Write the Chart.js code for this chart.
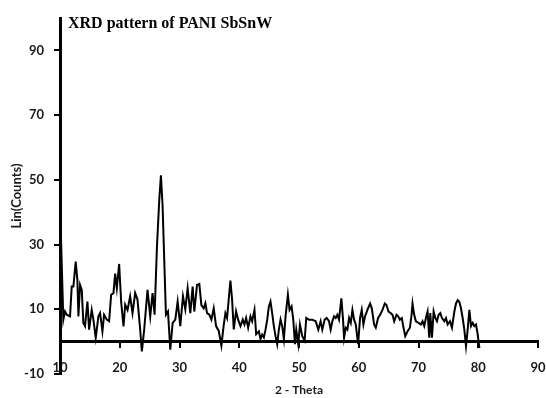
<!DOCTYPE html>
<html>
<head>
<meta charset="utf-8">
<title>XRD pattern of PANI SbSnW</title>
<script src="https://cdn.jsdelivr.net/npm/chart.js@4/dist/chart.umd.min.js"></script>
<style>
    html, body { margin: 0; padding: 0; background: #fff; }
    #chart-wrap { width: 546px; height: 398px; }
</style>
</head>
<body>
<div id="chart-wrap"><canvas id="xrd-chart"></canvas></div>
<script>
// 2-theta positions (degrees)
const twoTheta = [
    10.15, 10.56, 10.84, 11.12, 11.68, 11.96, 12.24, 12.63, 12.91, 13.08, 13.36, 13.64, 13.91, 14.19, 14.59, 14.87,
    15.31, 15.59, 15.98, 16.43, 16.71, 17.10, 17.38, 17.83, 18.22, 18.56, 18.95, 19.23, 19.51, 19.90, 20.23, 20.63,
    20.91, 21.30, 21.74, 22.14, 22.58, 22.97, 23.42, 23.70, 24.09, 24.65, 25.10, 25.49, 25.83, 26.22, 26.61, 26.89,
    27.17, 27.45, 27.73, 28.07, 28.46, 28.85, 29.30, 29.69, 30.13, 30.58, 30.97, 31.36, 31.81, 32.20, 32.48, 32.93,
    33.32, 33.66, 34.05, 34.33, 34.61, 35.00, 35.34, 35.73, 36.12, 36.57, 37.01, 37.40, 37.68, 37.96, 38.24, 38.52,
    38.80, 39.08, 39.47, 39.81, 40.20, 40.59, 40.87, 41.15, 41.49, 41.88, 42.16, 42.55, 42.83, 43.28, 43.56, 43.84,
    44.12, 44.40, 44.68, 44.96, 45.23, 45.51, 45.79, 46.07, 46.35, 46.63, 46.91, 47.19, 47.47, 47.75, 48.14, 48.42,
    48.76, 49.04, 49.32, 49.54, 49.88, 50.16, 50.55, 50.94, 51.22, 51.67, 52.23, 52.79, 53.23, 53.62, 53.90, 54.30,
    54.63, 55.02, 55.30, 55.58, 55.86, 56.14, 56.42, 56.70, 57.09, 57.37, 57.54, 57.82, 58.10, 58.38, 58.66, 58.94,
    59.22, 59.50, 59.89, 60.22, 60.50, 60.78, 61.06, 61.45, 61.90, 62.18, 62.57, 62.85, 63.24, 63.58, 63.97, 64.36,
    64.64, 64.98, 65.37, 65.65, 65.93, 66.32, 66.60, 66.88, 67.21, 67.44, 67.78, 68.17, 68.56, 68.84, 69.00, 69.28,
    69.56, 70.01, 70.40, 70.68, 70.96, 71.24, 71.52, 71.80, 71.97, 72.25, 72.53, 72.81, 73.09, 73.37, 73.65, 73.93,
    74.32, 74.60, 74.88, 75.27, 75.60, 76.00, 76.28, 76.56, 76.83, 77.11, 77.39, 77.67, 77.95, 78.23, 78.51, 78.79,
    79.07, 79.35, 79.63, 79.91, 80.19
];

// Lin (Counts) at each position
const counts = [
    33, 6.8, 9.3, 8.3, 7.8, 17, 17, 24.7, 19, 7.8, 17.5, 16, 5.8, 4.8, 12.4, 3.7,
    9.8, 6.8, 1.2, 7.8, 8.8, 3.2, 8.3, 6.8, 6.3, 14.5, 15, 21, 16.5, 24, 12.4, 4.7,
    11.4, 9.8, 14, 8.8, 15, 13, 3.7, -3, 3.7, 16, 7.8, 15, 8.3, 29, 43.7, 51.4,
    42, 25, 8.3, 9.3, -2.5, 5.8, 6.8, 12.4, 4.8, 14, 10, 16.5, 8.8, 17, 9.3, 17.5,
    17.8, 11.3, 10.3, 11.9, 8.8, 8.3, 6.8, 10.3, 4.8, 3.3, -1.2, 5.1, 8.8, 7.3, 13.1, 18.9,
    13, 3.8, 9.4, 6.8, 4.8, 6.8, 5.3, 7.3, 4.3, 7.8, 6.3, 9.8, 2.3, 3.2, 0.8, 2.2,
    1.3, 3.7, 6.8, 10.9, 12.4, 8.8, 4.8, 1.7, -0.8, 3.7, 6.8, 4.8, 0.8, 7.8, 14.5, 9.8,
    10.9, 6.8, -0.8, 3.7, -0.8, 5.3, 1.7, 0.3, 7.3, 6.8, 6.8, 6.3, 3.7, 6.3, 3.7, 6.8,
    7.3, 6.3, 3.7, 6.3, 7.8, 7.3, 8.3, 6.8, 13.4, 6.8, 1.2, 4.3, 3.7, 7.3, 5.8, 9.8,
    6.8, 5.3, -0.8, 7.3, 9.8, 5.3, 7.8, 9.8, 11.8, 10.3, 5.3, 4.3, 7.3, 8.3, 9.8, 11.8,
    11.3, 9.3, 8.8, 8.3, 6.3, 8.3, 7.8, 6.8, 7.3, 4.8, 1.7, 3.2, 4.3, 8.3, 11.8, 8.3,
    6.3, 5.8, 5.3, 6.3, 4.8, 7.3, 9.3, 1.2, 8.8, 1.2, 9.3, 7.3, 6.3, 8.3, 8.8, 7.3,
    6.3, 7.3, 5.3, 6.3, 4.3, 9.3, 11.8, 12.8, 12.3, 10.3, 7.3, 3.7, -1.4, 3.7, 9.8, 4.8,
    5.8, 4.8, 5.3, 2.2, -2
];

// Axis ticks
const xTicks = [10, 20, 30, 40, 50, 60, 70, 80, 90];
const yTicks = [-10, 10, 30, 50, 70, 90];

(function () {
    'use strict';

    const labelFont = { family: 'Lato', size: 13, weight: 'bold' };
    const inkColor = '#1a1a1a';

    /**
     * Draws the chart caption in the top-left corner of the plot
     */
    const captionPlugin = {
        id: 'caption',
        afterDraw(chart) {
            const { ctx, chartArea } = chart;
            ctx.save();
            ctx.font = 'bold 16px "Liberation Serif", "Times New Roman", serif';
            ctx.fillStyle = '#000';
            ctx.textAlign = 'left';
            ctx.textBaseline = 'alphabetic';
            ctx.fillText('XRD pattern of PANI SbSnW', chartArea.left + 8, 28);
            ctx.restore();
        }
    };

    /**
     * Build point list from the two arrays
     */
    function buildPoints() {
        return twoTheta.map((t, i) => ({ x: t, y: counts[i] }));
    }

    /**
     * Keep label overhang from shrinking the plot area
     * @param {Object} axis
     */
    function noSidePadding(axis) {
        axis.paddingLeft = 0;
        axis.paddingRight = 0;
    }

    function init() {
        const ctx = document.getElementById('xrd-chart').getContext('2d');

        new Chart(ctx, {
            type: 'line',
            data: {
                datasets: [{
                    label: 'PANI SbSnW',
                    data: buildPoints(),
                    borderColor: '#000',
                    borderWidth: 2,
                    pointRadius: 0,
                    tension: 0,
                    fill: false
                }]
            },
            options: {
                responsive: true,
                maintainAspectRatio: false,
                animation: false,
                layout: { padding: { top: 18, right: 8, bottom: 0, left: 0 } },
                plugins: {
                    legend: { display: false },
                    tooltip: { enabled: false }
                },
                scales: {
                    // bottom axis only carries the title
                    x: {
                        type: 'linear',
                        position: 'bottom',
                        min: 10,
                        max: 90,
                        afterFit: axis => { axis.height = 24; noSidePadding(axis); },
                        border: { display: false },
                        grid: { display: false, drawTicks: false },
                        ticks: { display: false },
                        title: {
                            display: true,
                            text: '2 - Theta',
                            color: inkColor,
                            font: { family: 'Lato', size: 12, weight: 'bold' },
                            padding: { top: 0, bottom: 1 }
                        }
                    },
                    // zero line with tick marks and the 2-theta labels
                    xZero: {
                        type: 'linear',
                        position: { y: 0 },
                        min: 10,
                        max: 90,
                        afterBuildTicks: axis => { axis.ticks = xTicks.map(v => ({ value: v })); },
                        afterFit: axis => { axis.height = 0; noSidePadding(axis); },
                        border: { display: true, color: '#000', width: 3 },
                        grid: { drawOnChartArea: false, drawTicks: true, tickLength: 5, color: '#000', lineWidth: 2 },
                        ticks: { padding: 13, color: inkColor, font: labelFont, maxRotation: 0, autoSkip: false }
                    },
                    y: {
                        min: -10,
                        max: 100,
                        afterBuildTicks: axis => { axis.ticks = yTicks.map(v => ({ value: v })); },
                        afterFit: axis => { axis.width = 60; },
                        border: { display: true, color: '#000', width: 3 },
                        grid: { drawOnChartArea: false, drawTicks: true, tickLength: 6, color: '#000', lineWidth: 2 },
                        ticks: { padding: 10, color: inkColor, font: labelFont },
                        title: {
                            display: true,
                            text: 'Lin(Counts)',
                            color: inkColor,
                            font: labelFont,
                            padding: { top: 9, bottom: 0 }
                        }
                    }
                }
            },
            plugins: [captionPlugin]
        });
    }

    document.addEventListener('DOMContentLoaded', init);
})();
</script>
</body>
</html>
